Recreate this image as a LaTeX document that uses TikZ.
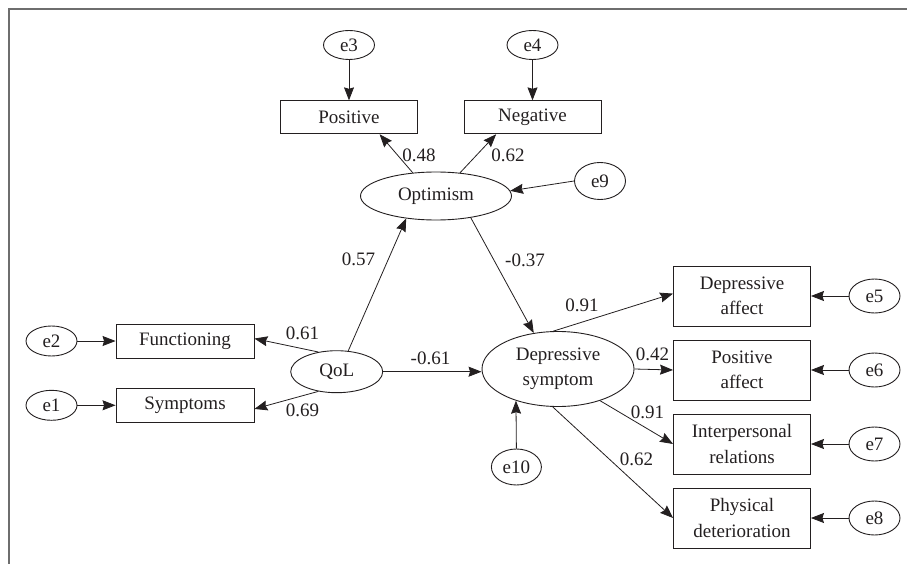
\documentclass[tikz,border=0pt]{standalone}
\usepackage{fontspec}
\setmainfont{Liberation Serif}
\usetikzlibrary{arrows.meta,shapes.geometric}
\definecolor{ink}{HTML}{231F20}
\definecolor{framegray}{HTML}{6E6E6E}
\begin{document}
\begin{tikzpicture}[x=1pt,y=-1pt,
  every node/.style={text=ink, font=\fontsize{19}{25.5}\selectfont},
  err/.style={draw=ink, ellipse, line width=0.9pt, minimum width=51pt, minimum height=30pt, inner sep=0pt},
  lat/.style={draw=ink, ellipse, line width=0.9pt, inner sep=0pt, align=center},
  obs/.style={draw=ink, rectangle, line width=0.9pt, minimum width=137pt, inner sep=0pt, align=center},
  arr/.style={draw=ink, line width=0.8pt, -{Stealth[length=13pt,width=10pt,inset=1.5pt]}},
  lbl/.style={inner sep=0pt}
]
\useasboundingbox (0,0) rectangle (907,564);
\draw[framegray, line width=1.6pt] (9,564) -- (9,9) -- (907,9);

% top
\node[err, minimum height=29pt] (e3) at (349,45) {e3};
\node[err, minimum height=29pt] (e4) at (532.5,45) {e4};
\node[obs, minimum height=33pt] (pos) at (349,117.3) {Positive};
\node[obs, minimum height=33pt] (neg) at (532.5,117.3) {Negative};
\node[lat, minimum width=151pt, minimum height=48pt] (opt) at (436,196) {Optimism};
\node[err, minimum height=37pt] (e9) at (600,181) {e9};

% left
\node[lat, minimum width=92pt, minimum height=42pt] (qol) at (336.7,371.7) {QoL};
\node[obs, minimum width=138pt, minimum height=34pt] (fun) at (185,341) {Functioning};
\node[obs, minimum width=138pt, minimum height=34pt] (sym) at (185,405.3) {Symptoms};
\node[err] (e2) at (51.5,341) {e2};
\node[err] (e1) at (51.5,405.3) {e1};

% centre
\node[lat, minimum width=152pt, minimum height=75pt] (ds) at (558,369) {Depressive\\symptom};
\node[err, minimum width=50pt, minimum height=36pt] (e10) at (516.4,467) {e10};

% right
\node[obs, minimum height=60pt] (daff) at (742,296) {Depressive\\affect};
\node[obs, minimum height=60pt] (paff) at (742,370) {Positive\\affect};
\node[obs, minimum height=60pt] (irel) at (742,444) {Interpersonal\\relations};
\node[obs, minimum height=60pt] (phys) at (742,518) {Physical\\deterioration};
\node[err, minimum height=34pt] (e5) at (874.5,296) {e5};
\node[err, minimum height=34pt] (e6) at (874.5,370) {e6};
\node[err, minimum height=34pt] (e7) at (874.5,444) {e7};
\node[err, minimum height=34pt] (e8) at (874.5,518) {e8};

% connectors
\draw[arr] (e3.south) -- (pos.north);
\draw[arr] (e4.south) -- (neg.north);
\draw[arr] (opt.135.6) -- (pos.-29);
\draw[arr] (opt.44.7) -- (neg.205);
\draw[arr] (e9.west) -- (opt.4);
\draw[arr] (qol.61) -- (opt.217);
\draw[arr] (opt.328.5) -- (ds.124.8);
\draw[arr] (qol.133.5) -- (fun.2);
\draw[arr] (qol.227.4) -- (sym.-3);
\draw[arr] (e2.east) -- (fun.west);
\draw[arr] (e1.east) -- (sym.west);
\draw[arr] (qol.east) -- (qol.east -| ds.west);
\draw[arr] (e10.north) -- (ds.217);
\draw[arr] (ds.97.2) -- (daff.178);
\draw[arr] (ds.east) -- (paff.west);
\draw[arr] (ds.323.3) -- (irel.west);
\draw[arr] (ds.262.8) -- (phys.west);
\draw[arr] (e5.west) -- (daff.east);
\draw[arr] (e6.west) -- (paff.east);
\draw[arr] (e7.west) -- (irel.east);
\draw[arr] (e8.west) -- (phys.east);

% labels
\node[lbl] (l048) at (419,155) {0.48};
\node[lbl] (l062a) at (508,155) {0.62};
\node[lbl] (l057) at (358.5,259) {0.57};
\node[lbl] (l037) at (525,260.7) {-0.37};
\node[lbl] (l091a) at (582,305) {0.91};
\node[lbl] (l042) at (652.5,354) {0.42};
\node[lbl] (l091b) at (647.5,412.5) {0.91};
\node[lbl] (l062b) at (636.5,459.3) {0.62};
\node[lbl] (l061) at (302.5,333.3) {0.61};
\node[lbl] (l069) at (302.5,410) {0.69};
\node[lbl] (l061n) at (430.5,358) {-0.61};
\end{tikzpicture}
\end{document}
